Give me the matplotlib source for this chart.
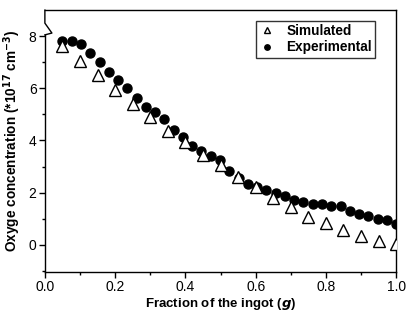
import numpy as np
import matplotlib
matplotlib.use("Agg")
import matplotlib.pyplot as plt
from matplotlib.ticker import MultipleLocator, FormatStrFormatter
import matplotlib.transforms as mtransforms

plt.rcParams['font.family'] = ['Liberation Sans', 'DejaVu Sans']

sim_x = [0.05, 0.10, 0.15, 0.20, 0.25, 0.30, 0.35, 0.40, 0.45, 0.50,
         0.55, 0.60, 0.65, 0.70, 0.75, 0.80, 0.85, 0.90, 0.95, 1.00]
sim_y = [7.62, 7.05, 6.50, 5.94, 5.40, 4.89, 4.38, 3.95, 3.45, 3.04,
         2.59, 2.21, 1.80, 1.44, 1.08, 0.83, 0.55, 0.32, 0.16, 0.02]

exp_x = list(np.linspace(0.05, 1.0, 37))
exp_y = [7.83, 7.83, 7.70, 7.34, 7.02, 6.61, 6.32, 6.01, 5.63, 5.30,
         5.08, 4.83, 4.41, 4.12, 3.80, 3.61, 3.42, 3.24, 2.82, 2.57,
         2.34, 2.21, 2.08, 1.98, 1.85, 1.72, 1.63, 1.57, 1.57, 1.47,
         1.47, 1.31, 1.16, 1.12, 1.00, 0.93, 0.80]

fig = plt.figure(figsize=(4.08, 3.16), dpi=100)
ax = fig.add_axes([0.110, 0.139, 0.861, 0.829])

ax.plot(exp_x, exp_y, linestyle='none', marker='o', ms=6.5, color='black',
        label='Experimental', zorder=3)
ax.plot(sim_x, sim_y, linestyle='none', marker='^', ms=8.0, mfc='white',
        mec='black', mew=1.0, label='Simulated', zorder=4)

ax.set_xlim(0.0, 1.0)
ax.set_ylim(-1.05, 9.0)
ax.xaxis.set_major_locator(MultipleLocator(0.2))
ax.xaxis.set_minor_locator(MultipleLocator(0.1))
ax.xaxis.set_major_formatter(FormatStrFormatter('%.1f'))
ax.set_yticks([0, 2, 4, 6, 8])
ax.set_yticks([-1, 1, 3, 5, 7], minor=True)
ax.tick_params(axis='both', which='major', direction='out', length=4, width=1,
               labelsize=10, pad=2)
ax.tick_params(axis='both', which='minor', direction='out', length=2.5, width=1)

for s in ax.spines.values():
    s.set_linewidth(1.0)
ax.spines['left'].set_visible(False)

# left spine with axis break drawn manually
trans = mtransforms.blended_transform_factory(ax.transAxes, ax.transData)
ax.plot([0, 0], [-1.05, 8.05], color='black', lw=1.0, transform=trans,
        clip_on=False, zorder=5)
ax.plot([0, 0, 0.02, 0.0], [9.0, 8.5, 8.12, 8.05], color='black', lw=1.0,
        transform=trans, clip_on=False, zorder=5)

ax.set_xlabel('Fraction of the ingot ($\\mathbfit{g}$)', fontsize=9.5,
              fontweight='bold', labelpad=1)
ax.set_ylabel('Oxyge concentration (*10$^{\\mathbf{17}}$ cm$^{\\mathbf{-3}}$)',
              fontsize=9.8, fontweight='bold', labelpad=4)

handles, labels = ax.get_legend_handles_labels()
leg = ax.legend(handles[::-1], labels[::-1], loc='upper right',
                bbox_to_anchor=(0.96, 0.985), frameon=True, fancybox=False,
                edgecolor='black', prop={'weight': 'bold', 'size': 9.8},
                markerscale=0.6, handlelength=1.2, handletextpad=0.8,
                borderpad=0.25, labelspacing=0.15)
leg.get_frame().set_linewidth(1.0)

fig.savefig('out.png', dpi=100)
